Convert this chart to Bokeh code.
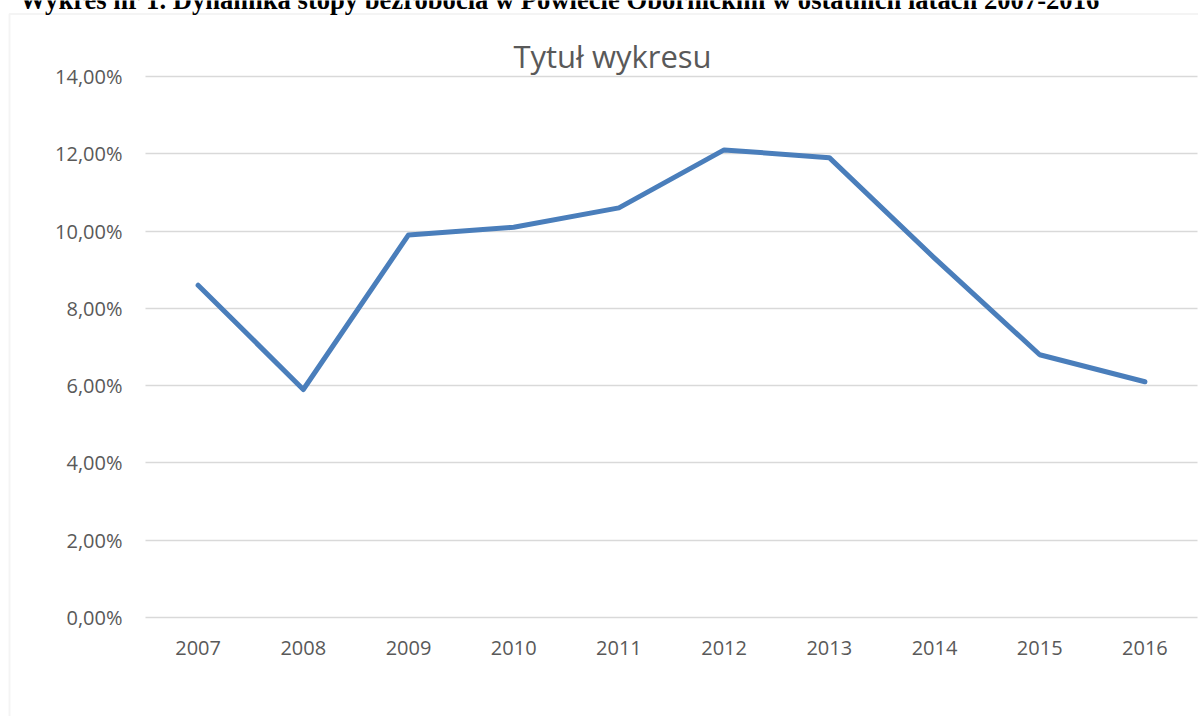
from bokeh.plotting import figure
from bokeh.models import (Range1d, CustomJSTickFormatter, Label, BoxAnnotation,
                          ColumnDataSource, FixedTicker, Grid)
from bokeh.embed import file_html
from bokeh.resources import INLINE

years = ["2007", "2008", "2009", "2010", "2011", "2012", "2013", "2014", "2015", "2016"]
rate = [8.6, 5.9, 9.9, 10.1, 10.6, 12.1, 11.9, 9.3, 6.8, 6.1]
y_ticks = [0, 2, 4, 6, 8, 10, 12, 14]

heading = "Wykres nr 1. Dynamika stopy bezrobocia w Powiecie Obornickim w ostatnich latach 2007-2016"
chart_title = "Tytuł wykresu"

TXT = "#595959"
FONT = "Open Sans"

W, H = 1198, 716
# layout geometry (pixels)
PLOT_L, PLOT_R = 145, 1197      # plot area edges
Y0_PX, YTOP_PX = 617, 76        # pixel rows of 0 % and 14 %
n = len(years)
sx = (PLOT_R - PLOT_L) / n
sy = (Y0_PX - YTOP_PX) / (y_ticks[-1] - y_ticks[0])
x_start = -0.5 - PLOT_L / sx
x_end = x_start + W / sx
y_end = y_ticks[-1] + YTOP_PX / sy
y_start = y_end - H / sy

def xpx(px):
    return x_start + px / sx

def ypx(py):
    return y_end - py / sy

idx = list(range(n))

p = figure(width=W, height=H, title=None,
           x_range=Range1d(x_start, x_end), y_range=Range1d(y_start, y_end),
           output_backend="svg", toolbar_location=None,
           min_border=0)
p.outline_line_color = None
p.background_fill_color = "white"
p.border_fill_color = "white"

# grid lines only across the plot area
p.xgrid.grid_line_color = None
yt = FixedTicker(ticks=y_ticks)
p.ygrid.ticker = yt
p.ygrid.grid_line_color = "#d9d9d9"
p.ygrid.grid_line_width = 1.3
if "cross_bounds" in Grid.properties():
    p.ygrid.cross_bounds = (-0.5, n - 0.5)
else:
    p.ygrid.grid_line_color = None
    p.segment(x0=[-0.5] * len(y_ticks), x1=[n - 0.5] * len(y_ticks),
              y0=y_ticks, y1=y_ticks, line_color="#d9d9d9", line_width=1.3)

src = ColumnDataSource(dict(x=idx, rate=rate))
p.line(x="x", y="rate", source=src, line_color="#4a7ebb", line_width=5,
       line_join="round", line_cap="round")

xa, ya = p.xaxis[0], p.yaxis[0]
for ax in (xa, ya):
    ax.axis_line_color = None
    ax.major_tick_line_color = None
    ax.minor_tick_line_color = None
    ax.major_tick_out = 0
    ax.major_tick_in = 0
    ax.major_label_text_color = TXT
    ax.major_label_text_font = FONT
    ax.major_label_text_font_size = "20px"

xa.ticker = FixedTicker(ticks=idx)
xa.major_label_overrides = {i: y for i, y in zip(idx, years)}
xa.fixed_location = y_ticks[0]
xa.major_label_standoff = 23

ya.ticker = yt
ya.formatter = CustomJSTickFormatter(code="return tick.toFixed(2).replace('.', ',') + '%';")
ya.fixed_location = -0.5
ya.major_label_standoff = 23

# outer chart border (left and top edges visible)
p.add_layout(BoxAnnotation(left=xpx(9), right=xpx(W + 50), top=ypx(13.5), bottom=ypx(H + 50),
                           fill_alpha=0, line_color="#d9d9d9", line_width=2))

p.add_layout(Label(x=xpx(612), y=ypx(55), text=chart_title, text_align="center",
                   text_baseline="alphabetic", text_font=FONT,
                   text_font_size="31px", text_color=TXT))
p.add_layout(Label(x=xpx(19), y=ypx(-1), text=heading, text_align="left",
                   text_baseline="alphabetic", text_font="Liberation Serif",
                   text_font_style="bold", text_font_size="26.6px", text_color="black"))

open("out.html", "w").write(file_html(p, INLINE))
